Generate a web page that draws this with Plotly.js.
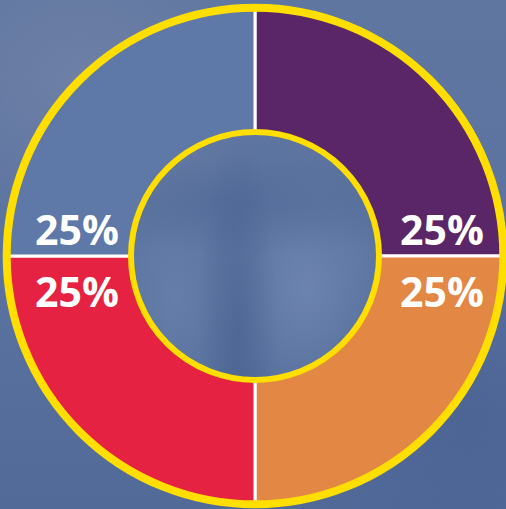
<!DOCTYPE html>
<html>
<head>
<meta charset="utf-8">
<script src="https://cdn.plot.ly/plotly-3.0.1.min.js"></script>
<style>
html,body{margin:0;padding:0;width:506px;height:509px;overflow:hidden;}
body{
  background:
    radial-gradient(ellipse 40px 200px at 238px 330px, rgba(70,95,140,0.6), rgba(70,95,140,0) 100%),
    radial-gradient(ellipse 220px 50px at 250px 205px, rgba(75,100,145,0.45), rgba(75,100,145,0) 100%),
    radial-gradient(ellipse 90px 120px at 305px 290px, rgba(125,150,190,0.5), rgba(125,150,190,0) 100%),
    radial-gradient(ellipse 70px 120px at 175px 300px, rgba(120,145,185,0.4), rgba(120,145,185,0) 100%),
    radial-gradient(ellipse 200px 160px at 80px 80px, rgba(120,135,170,0.6), rgba(120,135,170,0) 100%),
    radial-gradient(ellipse 180px 200px at 470px 420px, rgba(70,95,145,0.6), rgba(70,95,145,0) 100%),
    linear-gradient(180deg, #5f76a0 0%, #5b73a0 50%, #526a98 100%);
}
#chart{width:506px;height:509px;}
</style>
</head>
<body>
<div id="chart"></div>
<script>
const categories = ["A", "B", "C", "D"];
const values = [25, 25, 25, 25];
const colors = ["#5a2667", "#e38744", "#e52241", "#5e78a8"];

const total = values.reduce((a, b) => a + b, 0);
const pctText = values.map(v => Math.round(v / total * 100) + "%");

const W = 506, H = 509;
const cx = 255, cy = 256, R = 248;

const trace = {
  type: "pie",
  labels: categories,
  values: values,
  sort: false,
  direction: "clockwise",
  rotation: 0,
  hole: 0.5,
  textinfo: "none",
  hoverinfo: "none",
  showlegend: false,
  marker: {colors: colors, line: {color: "#ffffff", width: 3}},
  domain: {x: [(cx - R) / W, (cx + R) / W], y: [(H - cy - R) / H, (H - cy + R) / H]}
};

function circle(r, w) {
  return {
    type: "circle", xref: "paper", yref: "paper",
    x0: (cx - r) / W, x1: (cx + r) / W,
    y0: (H - cy - r) / H, y1: (H - cy + r) / H,
    line: {color: "#ffde00", width: w}, fillcolor: "rgba(0,0,0,0)"
  };
}

// label positions: right side top/bottom, then left side
const labelPos = [[442, 229], [442, 291], [77, 291], [77, 229]];
const annotations = pctText.map((t, i) => ({
  text: t, xref: "paper", yref: "paper",
  x: labelPos[i][0] / W, y: 1 - labelPos[i][1] / H,
  xanchor: "center", yanchor: "middle", showarrow: false,
  font: {family: "'Open Sans', Roboto, sans-serif", size: 41, color: "#ffffff", weight: 700}
}));

const layout = {
  width: W, height: H,
  margin: {l: 0, r: 0, t: 0, b: 0},
  paper_bgcolor: "rgba(0,0,0,0)",
  plot_bgcolor: "rgba(0,0,0,0)",
  shapes: [circle(248.3, 8), circle(124, 6)],
  annotations: annotations
};

Plotly.newPlot("chart", [trace], layout, {displayModeBar: false, staticPlot: true});
</script>
</body>
</html>
